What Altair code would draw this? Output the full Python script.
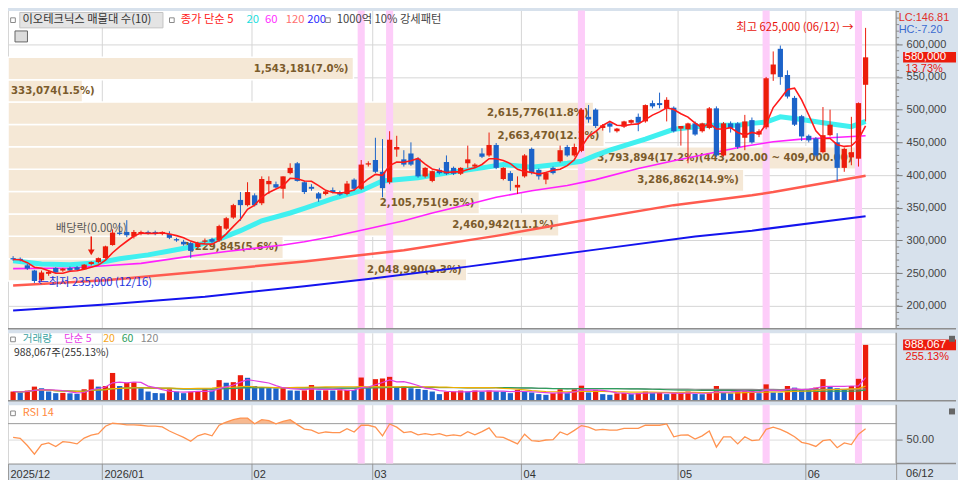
import json
import altair as alt
import pandas as pd

# ------------------------------------------------------------------
# values (prices in thousand KRW)
# ------------------------------------------------------------------
opens = [273, 272, 262, 254, 239, 249, 258, 254, 258, 259,
         256, 264, 267, 273, 293, 312, 313, 306, 311, 313,
         313, 310, 310, 302, 298, 296, 290, 298, 302, 300,
         318, 335, 362, 354, 369, 357, 386, 386, 379, 403,
         418, 389, 382, 372, 371, 377, 374, 371, 393, 379,
         416, 423, 405, 389, 439, 424, 433, 425, 398, 391,
         408, 420, 411, 402, 418, 413, 433, 430, 446, 394,
         403, 381, 398, 440, 408, 393, 411, 421, 443, 430,
         437, 489, 500, 472, 479, 467, 474, 480, 489, 482,
         510, 510, 502, 503, 471, 470, 479, 467, 472, 502,
         430, 479, 479, 457, 484, 462, 473, 554, 593, 553,
         518, 490, 460, 456, 435, 461, 450, 411, 427, 425,
         538]
highs = [276, 274, 264, 255, 254, 254, 259, 258, 260, 261,
         264, 268, 274, 292, 317, 327, 331, 316, 315, 315,
         315, 314, 314, 304, 301, 298, 298, 303, 304, 324,
         336, 356, 374, 389, 372, 398, 398, 390, 398, 418,
         420, 391, 386, 374, 377, 381, 376, 391, 395, 423,
         421, 457, 455, 467, 460, 438, 450, 427, 412, 407,
         411, 430, 413, 412, 445, 418, 441, 465, 449, 412,
         406, 398, 432, 442, 410, 405, 413, 445, 446, 448,
         502, 507, 502, 478, 482, 472, 483, 485, 494, 508,
         514, 526, 519, 505, 475, 480, 482, 480, 504, 505,
         481, 482, 481, 492, 488, 470, 550, 589, 598, 560,
         521, 492, 462, 458, 504, 500, 464, 442, 489, 511,
         625]
lows = [269, 268, 255, 235, 237, 246, 250, 252, 253, 254,
        255, 262, 265, 272, 292, 308, 305, 303, 308, 309,
        308, 308, 302, 298, 292, 273, 288, 296, 296, 298,
        316, 333, 330, 352, 352, 354, 371, 380, 364, 401,
        390, 371, 376, 359, 369, 372, 368, 369, 376, 377,
        413, 403, 366, 386, 428, 413, 414, 396, 396, 389,
        401, 400, 400, 400, 411, 411, 426, 428, 409, 392,
        376, 371, 396, 401, 393, 386, 401, 419, 428, 428,
        435, 480, 472, 468, 465, 465, 472, 478, 467, 480,
        502, 502, 482, 465, 445, 418, 460, 465, 470, 428,
        428, 465, 440, 438, 448, 458, 470, 544, 538, 517,
        475, 452, 450, 428, 433, 459, 391, 405, 415, 413,
        482]
closes = [271, 270, 257, 238, 251, 252, 251, 257, 254, 255,
          263, 267, 273, 291, 312, 310, 308, 313, 313, 310,
          310, 313, 304, 300, 294, 284, 296, 300, 298, 322,
          334, 354, 354, 374, 354, 394, 391, 381, 398, 411,
          391, 374, 379, 364, 375, 374, 370, 387, 379, 416,
          418, 405, 380, 454, 443, 416, 416, 398, 411, 406,
          403, 402, 402, 411, 424, 416, 428, 446, 411, 411,
          391, 385, 430, 403, 398, 403, 403, 438, 430, 443,
          500, 485, 475, 476, 474, 471, 482, 484, 480, 507,
          505, 507, 515, 467, 475, 479, 462, 479, 502, 430,
          479, 472, 443, 482, 450, 467, 548, 569, 550, 520,
          477, 459, 453, 430, 461, 477, 411, 440, 435, 510,
          580]
# volume, thousand shares
volumes = [162, 145, 179, 249, 220, 162, 133, 138, 130, 121,
           202, 376, 249, 260, 491, 260, 318, 326, 220, 162,
           135, 131, 202, 162, 133, 158, 165, 202, 179, 364,
           318, 328, 451, 405, 260, 226, 222, 218, 222, 181,
           177, 182, 277, 179, 183, 180, 185, 192, 189, 410,
           237, 381, 393, 422, 237, 260, 220, 208, 191, 162,
           116, 158, 162, 179, 162, 179, 162, 179, 165, 160,
           133, 191, 162, 145, 116, 104, 133, 202, 133, 202,
           266, 145, 191, 116, 104, 130, 136, 116, 133, 162,
           133, 136, 116, 130, 135, 162, 118, 114, 133, 260,
           136, 130, 165, 170, 176, 133, 289, 145, 140, 260,
           231, 202, 198, 231, 381, 249, 220, 191, 260, 387.28,
           988.067]
rsi14 = [52.8, 51.6, 42.7, 31.9, 43.9, 45.9, 41.5, 47.5, 46.7, 44.7,
         52.0, 55.6, 57.6, 66.8, 70.5, 69.6, 68.4, 68.4, 68.0, 66.8,
         66.8, 66.0, 60.8, 56.8, 52.8, 48.0, 54.8, 57.6, 54.8, 68.0,
         72.0, 74.9, 76.9, 76.9, 69.8, 74.9, 73.7, 69.8, 72.8, 74.9,
         68.8, 63.2, 62.0, 57.8, 59.6, 58.8, 58.8, 63.6, 59.6, 68.0,
         68.0, 65.6, 54.8, 69.6, 65.6, 58.8, 60.0, 56.0, 57.6, 56.0,
         57.6, 54.8, 56.0, 54.8, 60.0, 56.0, 60.0, 64.8, 53.6, 52.8,
         48.8, 44.7, 56.8, 48.8, 48.0, 49.6, 50.0, 59.6, 56.0, 61.6,
         67.6, 65.6, 62.0, 62.8, 62.0, 62.0, 64.0, 64.0, 64.0, 68.0,
         68.0, 68.0, 69.6, 53.6, 55.6, 56.0, 50.8, 54.8, 60.8, 40.7,
         53.6, 53.6, 44.7, 53.6, 48.8, 49.6, 62.8, 65.6, 62.8, 58.8,
         53.6, 46.7, 44.7, 41.5, 48.8, 50.0, 39.9, 45.9, 43.9, 56.8,
         63.6]

# moving averages read at sample days (thousand KRW)
ma20_days = [0, 4, 8, 12, 15, 19, 22, 25, 29, 32, 35, 39, 41, 45, 49, 52, 57, 61, 66, 69,
             73, 78, 80, 82, 84, 89, 93, 98, 102, 104, 106, 108, 111, 114, 116, 118, 120]
ma20_vals = [269, 264, 263, 266, 272, 278, 284, 290, 302, 315, 330, 342, 349, 364, 376, 391, 396, 403, 411, 416,
             412, 418, 421, 430, 438, 455, 470, 476, 476, 479, 481, 489, 485, 480, 477, 474, 482]
ma60_days = [0, 8, 14, 18, 25, 30, 38, 41, 45, 50, 55, 59, 64, 68, 73, 78, 82, 88, 93, 98, 103, 107, 111, 115, 120]
ma60_vals = [257, 258, 262, 265, 276, 283, 293, 298, 306, 318, 330, 342, 355, 366, 376, 384, 393, 410, 422, 433,
             444, 451, 455, 457, 460]
ma120_days = [0, 13, 27, 41, 55, 68, 80, 93, 104, 107, 120]
ma120_vals = [231, 239, 253, 268, 285, 307, 330, 354, 369, 374, 399]
ma200_days = [0, 13, 27, 41, 50, 64, 82, 96, 104, 120]
ma200_vals = [193, 202, 214, 230, 241, 260, 286, 306, 315, 337]

# volume-at-price bands (매물대)
profile_edges = [238000, 272200, 306400, 340600, 374800, 409000, 443200, 477400, 511600, 545800, 580000]
profile_vol = [2048990, 1229845, 2460942, 2105751, 3286862, 3793894, 2663470, 2615776, 333074, 1543181]
profile_pct = ["9.3", "5.6", "11.1", "9.5", "14.9", "17.2", "12.1", "11.8", "1.5", "7.0"]

signal_days = [49, 53, 80, 106, 119]          # 1000억 10% 강세패턴
dividend_day = 11                              # 배당락
month_ticks = [-0.72, 12.5, 33.5, 50.5, 71.5, 93.5, 111.5, 124.3]
month_labels = ["2025/12", "2026/01", "02", "03", "04", "05", "06", ""]
price_ticks = [200000, 250000, 300000, 350000, 400000, 450000, 500000, 550000, 600000]
low_date = "12/16"
last_date = "06/12"
lc_text = "LC:146.81"
hc_text = "HC:-7.20"
rsi_level = 70

# ------------------------------------------------------------------
# layout / style
# ------------------------------------------------------------------
W = 890
AX_W = 60
H_MAIN = 319
H_VOL = 68
H_RSI = 59
X_DOM = [-0.72, 124.3]
Y_DOM = [164900, 651600]
VOL_DOM = [0, 1202000]
RSI_DOM = [20.2, 93.7]
PROF_DOM = [0, 3967000]
SHORT_BAR = 800000      # profile bars too short to hold their label
MINOR_STEP = 10000
HALF_BODY = 0.37

RED = "#ec1c0c"
BLUE = "#1c63c9"
PINK = "#fdcdf9"
BEIGE = "#f5e8d6"
BG = "#d7e1ec"
GRID = "#d6d6d6"
SEP = "#8e8e8e"
KFONT = "Noto Sans CJK KR"
NFONT = "Liberation Sans"

n = len(closes)
df = pd.DataFrame({
    "i": list(range(n)),
    "open": [v * 1000 for v in opens],
    "high": [v * 1000 for v in highs],
    "low": [v * 1000 for v in lows],
    "close": [v * 1000 for v in closes],
    "vol": [round(v * 1000) for v in volumes],
    "rsi": rsi14,
})
df["dir"] = ["up" if c >= o else "down" for o, c in zip(opens, closes)]
df["vdir"] = ["up" if k == 0 or volumes[k] > volumes[k - 1] else "down" for k in range(n)]
df["x0"] = df["i"] - HALF_BODY
df["x1"] = df["i"] + HALF_BODY
df["z"] = 0

ONE = pd.DataFrame({"k": [0]})

xs = alt.Scale(domain=X_DOM, nice=False, zero=False)
ys = alt.Scale(domain=Y_DOM, nice=False, zero=False)
vs = alt.Scale(domain=VOL_DOM, nice=False, zero=True)
rs = alt.Scale(domain=RSI_DOM, nice=False, zero=False)

x_grid_axis = alt.Axis(values=month_ticks, grid=True, gridColor=GRID, labels=False, ticks=False,
                       domain=False, title=None, minExtent=0, maxExtent=0)
label_expr = "%s[indexof(%s, datum.value)]" % (json.dumps(month_labels, ensure_ascii=False), json.dumps(month_ticks))
x_bottom_axis = alt.Axis(values=month_ticks, labelExpr=label_expr, grid=True, gridColor=GRID,
                         tickSize=17, tickColor="#9a9a9a", labelAlign="left", labelBaseline="top",
                         labelPadding=-12, labelOffset=2, labelFlush=False, labelOverlap=False,
                         labelColor="#333333", labelFont=NFONT, labelFontSize=11,
                         domain=True, domainColor=SEP, title=None, minExtent=17, maxExtent=17)
y_main_axis = alt.Axis(orient="right", values=price_ticks,
                       labelExpr="format(datum.value, ',d')", grid=True, gridColor=GRID,
                       tickColor="#777777", tickSize=6,
                       labelColor="#444444", labelFont=NFONT, labelFontSize=11, labelPadding=4,
                       domain=False, title=None, minExtent=AX_W, maxExtent=AX_W)
y_vol_axis = alt.Axis(orient="right", values=[1000000], grid=True, gridColor="#e2e2e2", labels=False,
                      ticks=False, domain=False, title=None, minExtent=AX_W, maxExtent=AX_W)
y_rsi_axis = alt.Axis(orient="right", values=[50], labelExpr="format(datum.value, '.2f')", grid=True,
                      gridColor="#dcdcdc", tickColor="#777777", tickSize=6, labelColor="#444444",
                      labelFont=NFONT, labelFontSize=11, labelPadding=4, domain=False, title=None,
                      minExtent=AX_W, maxExtent=AX_W)


def PX(f, axis=x_grid_axis):
    return alt.X(f, type="quantitative", scale=xs, axis=axis)


def PY(f):
    return alt.Y(f, type="quantitative", scale=ys, axis=y_main_axis)


def VY(f):
    return alt.Y(f, type="quantitative", scale=vs, axis=y_vol_axis)


def RY(f):
    return alt.Y(f, type="quantitative", scale=rs, axis=y_rsi_axis)


dir_color = alt.Color("dir:N", scale=alt.Scale(domain=["up", "down"], range=[RED, BLUE]), legend=None)
vdir_color = alt.Color("vdir:N", scale=alt.Scale(domain=["up", "down"], range=[RED, BLUE]), legend=None)


def txt(s, x, y, color, size=11.3, font=KFONT, align="left", weight="normal"):
    return alt.Chart(ONE).mark_text(text=s, align=align, baseline="middle", font=font, fontSize=size,
                                    color=color, fontWeight=weight).encode(x=alt.value(x), y=alt.value(y))


def icon(x, y):
    return alt.Chart(ONE).mark_point(shape="square", size=22, filled=False, color="#8a8a8a",
                                     strokeWidth=1, opacity=1).encode(x=alt.value(x), y=alt.value(y))


def frame(h, bottom=True):
    """right border of the plot and the separator under a panel (across the axis strip too)"""
    right = alt.Chart(ONE).mark_rule(color=SEP, strokeWidth=1.2).encode(
        x=alt.value(W), y=alt.value(0), y2=alt.value(h))
    if not bottom:
        return right
    under = alt.Chart(ONE).mark_rule(color=SEP, strokeWidth=1.5).encode(
        x=alt.value(0), x2=alt.value(W + AX_W), y=alt.value(h))
    return alt.layer(right, under)


BOX_SHAPE = "M-1,-0.2L1,-0.2L1,0.2L-1,0.2Z"

# ------------------------------------------------------------------
# main price panel
# ------------------------------------------------------------------
prof_df = pd.DataFrame({
    "lo": profile_edges[:-1], "hi": profile_edges[1:], "vol": profile_vol, "pct": profile_pct})
prof_df["mid"] = (prof_df["lo"] + prof_df["hi"]) / 2
prof_df["z"] = 0
top_band = prof_df["vol"].idxmax()
prof_df["label"] = [
    f"{v:,}({p}%)" + (f"({h:,.2f} ~ {l:,.2f})" if k == top_band else "")
    for k, (v, p, h, l) in enumerate(zip(prof_df["vol"], prof_df["pct"], prof_df["hi"], prof_df["lo"]))]
prof_x = alt.Scale(domain=PROF_DOM, nice=False, zero=True)
prof_bar = alt.Chart(prof_df).mark_rect(color=BEIGE, stroke="white", strokeWidth=1.5).encode(
    x=alt.X("vol:Q", scale=prof_x, axis=None), x2="z", y=PY("lo"), y2="hi")
prof_style = dict(baseline="middle", font="DejaVu Sans", fontSize=10.2, fontWeight="bold", color="#7b5b2b")
prof_txt = alt.Chart(prof_df).transform_filter(f"datum.vol >= {SHORT_BAR}").mark_text(
    align="right", dx=-5, **prof_style).encode(
    x=alt.X("vol:Q", scale=prof_x, axis=None), y=PY("mid"), text="label:N")
prof_txt_short = alt.Chart(prof_df).transform_filter(f"datum.vol < {SHORT_BAR}").mark_text(
    align="left", dx=3, **prof_style).encode(
    x=alt.X("z:Q", scale=prof_x, axis=None), y=PY("mid"), text="label:N")
profile_text_layer = alt.layer(prof_txt, prof_txt_short)

band_df = pd.DataFrame({"s": signal_days})
band_df["b0"] = band_df["s"] - 0.5
band_df["b1"] = band_df["s"] + 0.5


def bands(h, axis=x_grid_axis):
    return alt.Chart(band_df).mark_rect(color=PINK).encode(
        x=PX("b0", axis), x2="b1", y=alt.value(0), y2=alt.value(h))


def ma_line(days, vals, color, width):
    d = pd.DataFrame({"i": days, "v": [v * 1000 for v in vals]})
    return alt.Chart(d).mark_line(color=color, strokeWidth=width).encode(x=PX("i"), y=PY("v"))


ma5 = alt.Chart(df).transform_window(ma5="mean(close)", frame=[-4, 0], sort=[alt.SortField("i")]).mark_line(
    color="#ff1a1a", strokeWidth=1.6).encode(x=PX("i"), y=PY("ma5"))
wicks = alt.Chart(df).mark_rule(strokeWidth=1).encode(x=PX("i"), y=PY("low"), y2="high", color=dir_color)
bodies = alt.Chart(df).mark_rect().encode(x=PX("x0"), x2="x1", y=PY("open"), y2="close", color=dir_color)

hi_i = highs.index(max(highs))
lo_i = lows.index(min(lows))
hi_df = pd.DataFrame({"i": [hi_i], "v": [highs[hi_i] * 1000],
                      "t": [f"최고 {highs[hi_i] * 1000:,} ({last_date}) →"]})
lo_df = pd.DataFrame({"i": [lo_i], "v": [lows[lo_i] * 1000],
                      "t": [f"←최저 {lows[lo_i] * 1000:,} ({low_date})"]})
hi_txt = alt.Chart(hi_df).mark_text(align="right", baseline="middle", dx=-12, font=KFONT, fontSize=11.3,
                                    color="#e8140c").encode(x=PX("i"), y=PY("v"), text="t:N")
lo_txt = alt.Chart(lo_df).mark_text(align="left", baseline="middle", dx=3, font=KFONT, fontSize=11.3,
                                    color="#2233dd").encode(x=PX("i"), y=PY("v"), text="t:N")
div_df = pd.DataFrame({"i": [dividend_day], "v": [highs[dividend_day] * 1000]})
div_txt = alt.Chart(div_df).mark_text(text="배당락(0.00%)", align="center", baseline="middle", dy=-32,
                                      font=KFONT, fontSize=11.3, color="#555555").encode(x=PX("i"), y=PY("v"))
div_arrow = alt.Chart(div_df).mark_rule(color=RED, strokeWidth=1.5, yOffset=-25, y2Offset=-11).encode(
    x=PX("i"), y=PY("v"), y2="v")
div_head = alt.Chart(div_df).mark_point(shape="triangle-down", size=45, filled=True, color=RED, opacity=1,
                                        yOffset=-9).encode(x=PX("i"), y=PY("v"))

minor_df = pd.DataFrame({"v": list(range(170000, 651000, MINOR_STEP))})
minor_ticks = alt.Chart(minor_df).mark_rule(color="#888888").encode(
    x=alt.value(W), x2=alt.value(W + 3), y=PY("v"))

last_close = closes[-1] * 1000
chg = (closes[-1] - closes[-2]) / closes[-2] * 100
px_df = pd.DataFrame({"v": [last_close], "t": [f"{last_close:,}"], "p": [f"{chg:.2f}%"]})
px_box = alt.Chart(px_df).mark_point(shape=BOX_SHAPE, size=2809, filled=True, color=RED, opacity=1,
                                     strokeWidth=0).encode(x=alt.value(W + 33.5), y=PY("v"))
px_txt = alt.Chart(px_df).mark_text(align="left", baseline="middle", font=NFONT, fontSize=11.5,
                                    color="white").encode(x=alt.value(W + 8.5), y=PY("v"), text="t:N")
px_pct = alt.Chart(px_df).mark_text(align="left", baseline="middle", dy=11.5, font=NFONT, fontSize=11,
                                    color="#e8140c").encode(x=alt.value(W + 9.5), y=PY("v"), text="p:N")

legend_box = alt.Chart(ONE).mark_rect(fill="#e4e4e4", stroke="#c4c4c4").encode(
    x=alt.value(11.8), x2=alt.value(155.3), y=alt.value(2), y2=alt.value(17.4))
table_icon = alt.Chart(ONE).mark_rect(fill="#dcdcdc", stroke="#666666").encode(
    x=alt.value(7), x2=alt.value(19.5), y=alt.value(20.5), y2=alt.value(31.5))

main_bands = alt.Chart(band_df).mark_rect(color=PINK).encode(
    x=alt.X("b0:Q", scale=xs, axis=None), x2="b1", y=alt.value(0), y2=alt.value(H_MAIN))

price_layer = alt.layer(
    ma_line(ma200_days, ma200_vals, "#1414ee", 2),
    ma_line(ma120_days, ma120_vals, "#ff5b4f", 2.5),
    ma_line(ma60_days, ma60_vals, "#ff20ff", 1.6),
    ma_line(ma20_days, ma20_vals, "#40f0f0", 5),
    wicks, bodies, ma5,
    hi_txt, lo_txt, div_txt, div_arrow, div_head,
    minor_ticks, frame(H_MAIN),
    px_box, px_txt, px_pct,
    legend_box, table_icon,
    icon(5, 9.7), txt("이오테크닉스 매물대 수(10)", 14.5, 9.7, "#333333"),
    icon(164.2, 9.7), txt("종가 단순 5", 173, 9.7, "#ff2020"),
    txt("20", 239, 9.7, "#22dede"), txt("60", 257.6, 9.7, "#ff30ff"),
    txt("120", 278.3, 9.7, "#ff6f6f"), txt("200", 300, 9.7, "#2b2bff"),
    icon(320.6, 9.7), txt("1000억 10% 강세패턴", 329.4, 9.7, "#444444"),
    txt(lc_text, W + 2.5, 7.7, "#e0302a", size=11, font=NFONT),
    txt(hc_text, W + 2.5, 19.3, "#3a6ad0", size=11, font=NFONT),
)

# profile bars, then the signal bands, then the profile labels, then the price marks
main = alt.layer(prof_bar, main_bands, profile_text_layer, price_layer).resolve_scale(
    x="independent").properties(width=W, height=H_MAIN)

# ------------------------------------------------------------------
# volume panel
# ------------------------------------------------------------------
vbars = alt.Chart(df).mark_rect().encode(x=PX("x0"), x2="x1", y=VY("vol"), y2="z", color=vdir_color)


def vol_ma(k, color):
    return alt.Chart(df).transform_window(m="mean(vol)", frame=[-(k - 1), 0], sort=[alt.SortField("i")]).mark_line(
        color=color, strokeWidth=1.2).encode(x=PX("i"), y=VY("m"))


last_vol = round(volumes[-1] * 1000)
vchg = volumes[-1] / volumes[-2] * 100
vbox_df = pd.DataFrame({"v": [last_vol], "t": [f"{last_vol:,}"], "p": [f"{vchg:.2f}%"]})
vol_box = alt.Chart(vbox_df).mark_point(shape=BOX_SHAPE, size=2809, filled=True, color=RED, opacity=1,
                                        strokeWidth=0).encode(x=alt.value(W + 33.5), y=VY("v"))
vol_box_txt = alt.Chart(vbox_df).mark_text(align="left", baseline="middle", font=NFONT, fontSize=11.5,
                                           color="white").encode(x=alt.value(W + 8.5), y=VY("v"), text="t:N")
vol_box_pct = alt.Chart(vbox_df).mark_text(align="left", baseline="middle", dy=12, font=NFONT,
                                           fontSize=11, color="#e8140c").encode(
    x=alt.value(W + 9.5), y=VY("v"), text="p:N")
vol_info = f"{last_vol:,}주({vchg:.2f}%)"

vol = alt.layer(
    bands(H_VOL), vbars,
    vol_ma(120, "#8a8a8a"), vol_ma(60, "#2e9e5e"), vol_ma(20, "#f0b000"), vol_ma(5, "#e040e0"),
    frame(H_VOL),
    vol_box, vol_box_txt, vol_box_pct,
    icon(5, 6.6), txt("거래량", 14.8, 6.6, "#3aa3a3", size=10.6), txt("단순 5", 56, 6.6, "#e83ee8", size=10.6),
    txt("20", 95.4, 6.6, "#f5a623", size=10.6), txt("60", 114, 6.6, "#2e9e5e", size=10.6),
    txt("120", 133, 6.6, "#888888", size=10.6),
    txt(vol_info, 6, 20.2, "#333333", size=10.4),
    alt.Chart(ONE).mark_point(shape="square", size=36, filled=True, color="#666666", opacity=1).encode(
        x=alt.value(W + 56), y=alt.value(6)),
).properties(width=W, height=H_VOL)

# ------------------------------------------------------------------
# RSI panel
# ------------------------------------------------------------------
lvl_df = pd.DataFrame({"v": [rsi_level]})
rsi_lvl = alt.Chart(lvl_df).mark_rule(color="#9a9a9a").encode(y=RY("v"))
rsi_fill = alt.Chart(df).transform_calculate(top=f"max(datum.rsi, {rsi_level})", base=f"{rsi_level}").mark_area(
    color="#f6b184", opacity=0.9).encode(x=PX("i", x_bottom_axis), y=RY("top"), y2="base")
rsi_line = alt.Chart(df).mark_line(color="#ff9350", strokeWidth=1.3).encode(
    x=PX("i", x_bottom_axis), y=RY("rsi"))

rsi = alt.layer(
    bands(H_RSI, x_bottom_axis),
    rsi_lvl, rsi_fill, rsi_line,
    frame(H_RSI, bottom=False),
    alt.Chart(ONE).mark_rule(color=SEP, strokeWidth=1.5).encode(
        x=alt.value(W), x2=alt.value(W + AX_W), y=alt.value(H_RSI)),
    icon(5, 8.7), txt("RSI 14", 14.8, 8.7, "#ff8a3d", size=11),
    alt.Chart(ONE).mark_point(shape="square", size=36, filled=True, color="#666666", opacity=1).encode(
        x=alt.value(W + 56), y=alt.value(6.8)),
    txt(last_date, W + 10, H_RSI + 10.5, "#333333", size=11, font=NFONT),
).properties(width=W, height=H_RSI)

chart = alt.vconcat(main, vol, rsi, spacing=0).properties(
    background=BG, padding={"left": -6, "top": 0, "right": 0, "bottom": 0}
).configure_view(fill="white", stroke="transparent")

chart.save("out.html", embed_options={"renderer": "svg", "actions": False})
